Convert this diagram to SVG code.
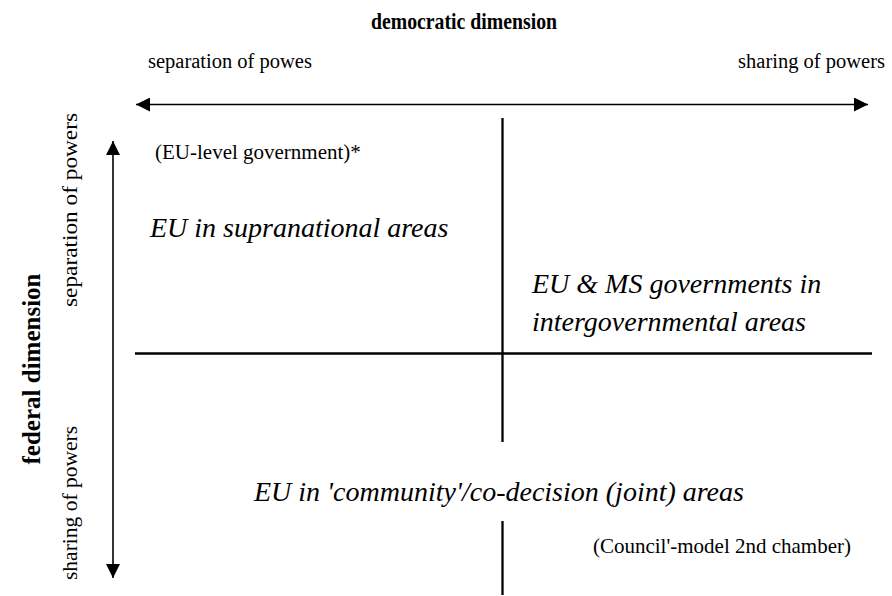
<svg xmlns="http://www.w3.org/2000/svg" width="892" height="596" viewBox="0 0 892 596">
<style>
text{font-family:"Liberation Serif","Times New Roman",serif;fill:#000}
.ttl{font-size:24px;font-weight:bold}
.sm{font-size:20.5px}
.vl{font-size:21.5px}
.lbl{font-size:21px}
.it{font-size:28px;font-style:italic}
.ln{stroke:#000;stroke-width:2.3;fill:none}
.ax{stroke:#000;stroke-width:1.6;fill:none}
</style>
<defs>
<marker id="ah" viewBox="0 0 10 10" refX="10" refY="5" markerWidth="14" markerHeight="14" markerUnits="userSpaceOnUse" orient="auto-start-reverse">
<path d="M0,0 L10,5 L0,10 Z" fill="#000"/>
</marker>
</defs>
<rect width="892" height="596" fill="#fff"/>
<g id="connectors">
<line class="ax" x1="136" y1="104.5" x2="868" y2="104.5" marker-start="url(#ah)" marker-end="url(#ah)"/>
<line class="ax" x1="113" y1="141" x2="113" y2="578" marker-start="url(#ah)" marker-end="url(#ah)"/>
<line class="ln" x1="502.5" y1="118" x2="502.5" y2="442"/>
<line class="ln" x1="502.5" y1="521" x2="502.5" y2="595"/>
<line class="ln" x1="135" y1="353.5" x2="872" y2="353.5"/>
</g>
<g id="axis-top">
<text class="ttl" x="371" y="29" textLength="186" lengthAdjust="spacingAndGlyphs">democratic dimension</text>
<text class="sm" x="148" y="68">separation of powes</text>
<text class="sm" x="885" y="68" text-anchor="end">sharing of powers</text>
</g>
<g id="axis-left">
<text class="ttl" transform="translate(40,369) rotate(-90)" text-anchor="middle" style="font-size:25px">federal dimension</text>
<text class="vl" transform="translate(77,210) rotate(-90)" text-anchor="middle" textLength="194" lengthAdjust="spacingAndGlyphs">separation of powers</text>
<text class="vl" transform="translate(77,503) rotate(-90)" text-anchor="middle">sharing of powers</text>
</g>
<g id="q-supranational">
<text class="lbl" x="155" y="159">(EU-level government)*</text>
<text class="it" x="150" y="237">EU in supranational areas</text>
</g>
<g id="q-intergovernmental">
<text class="it" x="532" y="293">EU &amp; MS governments in</text>
<text class="it" x="532" y="331">intergovernmental areas</text>
</g>
<g id="q-joint">
<text class="it" x="254" y="501">EU in 'community'/co-decision (joint) areas</text>
<text class="lbl" x="851" y="553" text-anchor="end">(Council'-model 2nd chamber)</text>
</g>
</svg>
